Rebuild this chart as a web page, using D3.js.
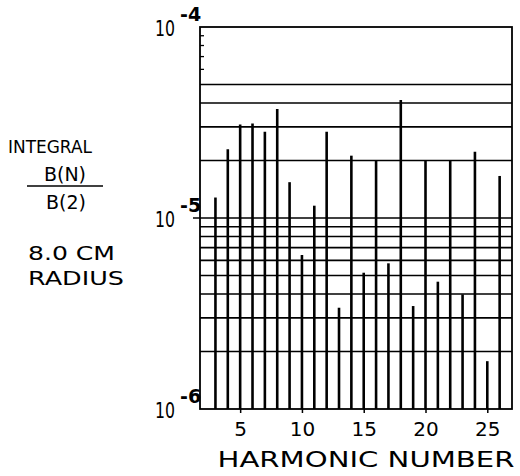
<!DOCTYPE html>
<html><head><meta charset="utf-8">
<script src="https://cdn.jsdelivr.net/npm/d3@7"></script>
<style>
html,body{margin:0;padding:0;background:#fff;}
svg{display:block;}
text{font-family:"DejaVu Sans",sans-serif;fill:#000;}
</style></head>
<body><svg id="c" width="520" height="476"></svg>
<script>
const harmonics = [3,4,5,6,7,8,9,10,11,12,13,14,15,16,17,18,19,20,21,22,23,24,25,26];
const ratios = [1.28e-5,2.29e-5,3.09e-5,3.12e-5,2.83e-5,3.72e-5,1.54e-5,6.4e-6,1.16e-5,2.83e-5,3.39e-6,2.12e-5,
                5.17e-6,1.99e-5,5.79e-6,4.15e-5,3.46e-6,1.99e-5,4.64e-6,1.99e-5,3.98e-6,2.22e-5,1.78e-6,1.66e-5];
const xTickValues = [5,10,15,20,25];
const gridValues = [2e-6,3e-6,4e-6,5e-6,6e-6,7e-6,8e-6,9e-6,1e-5,2e-5,3e-5,4e-5,5e-5];
const minorTickValues = [6e-5,7e-5,8e-5,9e-5];
const decadeExponents = [-4,-5,-6];
const xTitle = "HARMONIC NUMBER";
const sideLines = ["INTEGRAL","B(N)","B(2)","8.0 CM","RADIUS"];

const svg = d3.select("#c");
const L=200, R=512, T=27, B=409;
const x = d3.scaleLinear().domain([1.75,27]).range([L,R]);
const y = d3.scaleLog().domain([1e-6,1e-4]).range([B,T]);

// grid lines
svg.append("g").selectAll("line").data(gridValues).join("line")
  .attr("x1", d => d===1e-5 ? L-7 : L).attr("x2", R)
  .attr("y1", d => y(d)).attr("y2", d => y(d))
  .attr("stroke","#000").attr("stroke-width",1.6);
// minor ticks on left
svg.append("g").selectAll("line").data(minorTickValues).join("line")
  .attr("x1", L).attr("x2", L+4)
  .attr("y1", d => y(d)).attr("y2", d => y(d))
  .attr("stroke","#000").attr("stroke-width",1.3);

// bars
svg.append("g").selectAll("line").data(harmonics).join("line")
  .attr("x1", d => x(d)).attr("x2", d => x(d))
  .attr("y1", y(1e-6)).attr("y2", (d,i) => y(ratios[i]))
  .attr("stroke","#000").attr("stroke-width",2.6);

// frame
svg.append("rect").attr("x",L).attr("y",T).attr("width",R-L).attr("height",B-T)
  .attr("fill","none").attr("stroke","#000").attr("stroke-width",1.8);

// x axis ticks + labels
const xAxis = d3.axisBottom(x).tickValues(xTickValues).tickSize(4).tickPadding(9).tickFormat(d3.format("d"));
const gx = svg.append("g").attr("transform",`translate(0,${B})`).call(xAxis);
gx.select(".domain").remove();
gx.selectAll(".tick line").attr("stroke","#000").attr("stroke-width",1.5);
gx.selectAll(".tick text").attr("font-size",20).attr("font-family","DejaVu Sans").attr("fill","#000").attr("dy","0.71em");

svg.append("text").attr("x",(L+R)/2+10).attr("y",467).attr("text-anchor","middle")
  .attr("font-size",21).attr("textLength",297).attr("lengthAdjust","spacingAndGlyphs").text(xTitle);

// decade labels
const dg = svg.append("g");
decadeExponents.forEach(e => {
  const v = Math.pow(10,e);
  dg.append("text").attr("x",175).attr("y",y(v)+9).attr("text-anchor","end")
    .attr("font-size",21).attr("textLength",20).attr("lengthAdjust","spacingAndGlyphs").text("10");
  dg.append("text").attr("x",180).attr("y",y(v)-6).attr("text-anchor","start")
    .attr("font-size",19).attr("font-weight","bold").text("-"+(-e));
});

// side title
const sg = svg.append("g");
sg.append("text").attr("x",8).attr("y",153).attr("font-size",18).attr("textLength",84).attr("lengthAdjust","spacingAndGlyphs").text(sideLines[0]);
sg.append("text").attr("x",65).attr("y",181).attr("text-anchor","middle").attr("font-size",19).text(sideLines[1]);
sg.append("line").attr("x1",27).attr("x2",103).attr("y1",186).attr("y2",186).attr("stroke","#000").attr("stroke-width",1.6);
sg.append("text").attr("x",66).attr("y",209).attr("text-anchor","middle").attr("font-size",19).text(sideLines[2]);
sg.append("text").attr("x",28).attr("y",260).attr("font-size",19).attr("textLength",87).attr("lengthAdjust","spacingAndGlyphs").text(sideLines[3]);
sg.append("text").attr("x",28).attr("y",285).attr("font-size",19).attr("textLength",96).attr("lengthAdjust","spacingAndGlyphs").text(sideLines[4]);
</script></body></html>
